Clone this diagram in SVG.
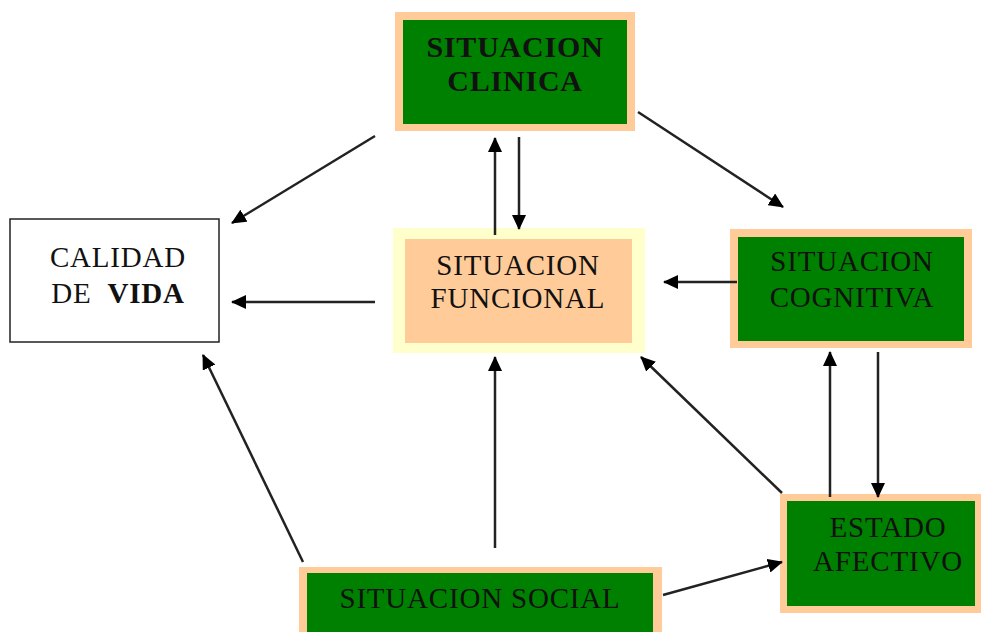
<svg xmlns="http://www.w3.org/2000/svg" width="981" height="632" viewBox="0 0 981 632">
<defs>
<style>
.peach{fill:#FFCC99}
.green{fill:#008000}
.yel{fill:#FFFFCC}
.t{font-family:"Liberation Serif","Times New Roman",serif;font-size:29px;fill:#111;text-anchor:middle;letter-spacing:0.8px}
.b{font-weight:bold;font-size:30px}
.c{stroke:#222;stroke-width:2.5;fill:none;marker-end:url(#ah)}
</style>
<marker id="ah" viewBox="0 0 15 14" refX="14" refY="7" markerWidth="15" markerHeight="14" markerUnits="userSpaceOnUse" orient="auto">
<path d="M0,0 L15,7 L0,14 z" fill="#000"/>
</marker>
</defs>
<rect width="981" height="632" fill="#fff"/>
<g id="clinica">
<rect class="peach" x="395" y="12" width="240" height="119"/>
<rect class="green" x="403" y="20" width="224" height="104"/>
<text class="t b" x="515" y="57">SITUACION</text>
<text class="t b" x="515" y="91">CLINICA</text>
</g>
<g id="calidad">
<rect x="10" y="219" width="209" height="123" fill="#fff" stroke="#222" stroke-width="1.5"/>
<text class="t" x="118" y="267">CALIDAD</text>
<text class="t" x="118" y="303">DE <tspan dx="8" font-weight="bold">VIDA</tspan></text>
</g>
<g id="funcional">
<rect class="yel" x="393" y="228" width="252" height="125"/>
<rect class="peach" x="405" y="239" width="227" height="104"/>
<text class="t" x="518" y="275">SITUACION</text>
<text class="t" x="518" y="308">FUNCIONAL</text>
</g>
<g id="cognitiva">
<rect class="peach" x="730" y="229" width="242" height="119"/>
<rect class="green" x="738" y="237" width="226" height="104"/>
<text class="t" x="852" y="271">SITUACION</text>
<text class="t" x="852" y="307">COGNITIVA</text>
</g>
<g id="afectivo">
<rect class="peach" x="780" y="494" width="210" height="119"/>
<rect class="green" x="787" y="501" width="188" height="105"/>
<text class="t" x="888" y="537">ESTADO</text>
<text class="t" x="888" y="571">AFECTIVO</text>
</g>
<g id="social">
<rect class="peach" x="299" y="567" width="363" height="80"/>
<rect class="green" x="307" y="573" width="346" height="80"/>
<text class="t" x="480" y="608">SITUACION SOCIAL</text>
</g>
<g id="connectors">
<line class="c" x1="375" y1="136" x2="232" y2="223"/>
<line class="c" x1="495" y1="235" x2="495" y2="138"/>
<line class="c" x1="519" y1="137" x2="519" y2="229"/>
<line class="c" x1="638" y1="112" x2="783" y2="207"/>
<line class="c" x1="375" y1="302" x2="232" y2="302"/>
<line class="c" x1="737" y1="282" x2="664" y2="282"/>
<line class="c" x1="303" y1="562" x2="203" y2="355"/>
<line class="c" x1="495" y1="548" x2="495" y2="357"/>
<line class="c" x1="782" y1="493" x2="641" y2="357"/>
<line class="c" x1="830" y1="497" x2="830" y2="352"/>
<line class="c" x1="878" y1="352" x2="878" y2="497"/>
<line class="c" x1="663" y1="595" x2="782" y2="562"/>
</g>
</svg>
